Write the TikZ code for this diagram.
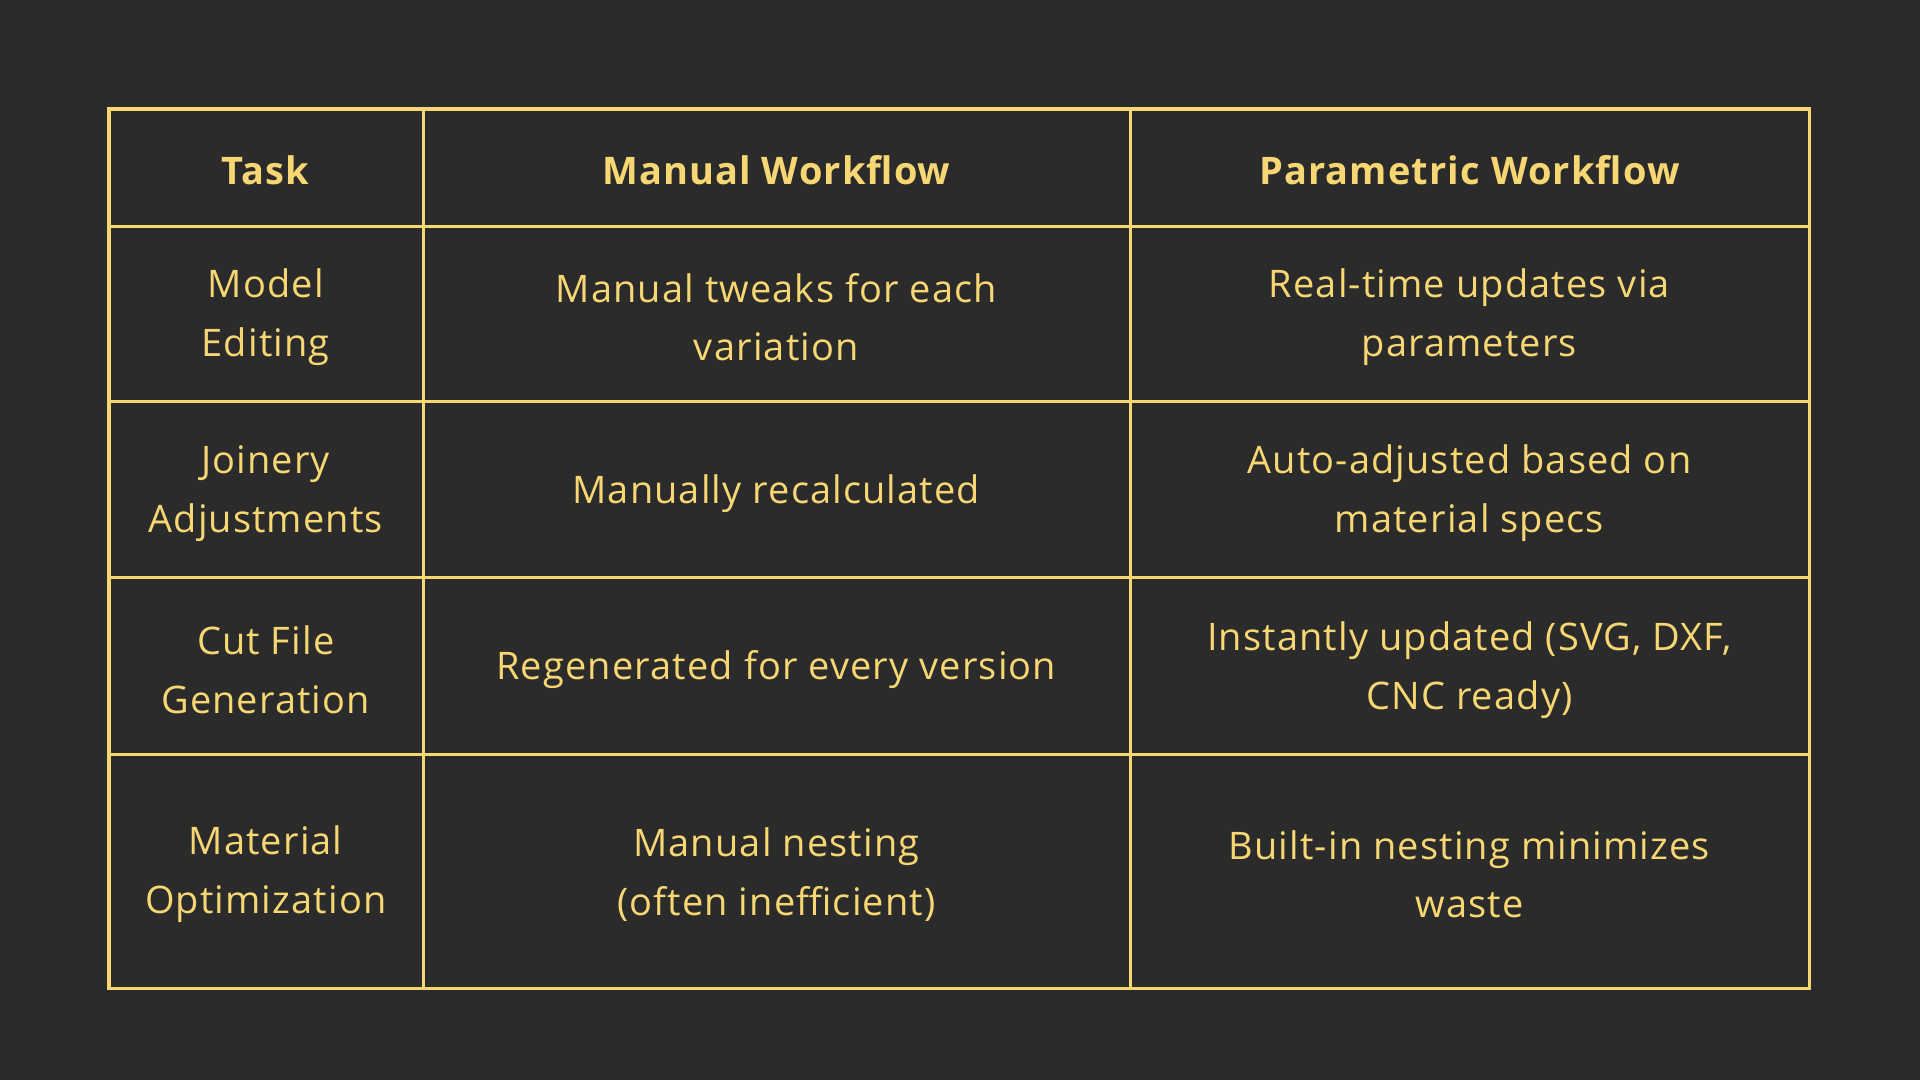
\documentclass[tikz,border=0pt]{standalone}
\usepackage{fontspec}
\setmainfont{Open Sans}[LetterSpace=3]
\definecolor{bg}{HTML}{2B2B2B}
\definecolor{yl}{HTML}{F7D774}
\begin{document}
\begin{tikzpicture}[x=1pt,y=-1pt,
  cell/.style={text=yl,align=center,font=\fontsize{31}{48}\selectfont},
  head/.style={cell,font=\fontsize{31}{48}\selectfont\bfseries},
  grid/.style={draw=yl,line width=2.5pt}]
\fill[bg] (0,0) rectangle (1568,882);
\useasboundingbox (0,0) rectangle (1568,882);
\draw[grid] (89,89) rectangle (1478,807);
\foreach \yy in {185,328,472,616} \draw[grid] (89,\yy) -- (1478,\yy);
\foreach \xx in {346,923} \draw[grid] (\xx,89) -- (\xx,807);
\node[head] (h1) at (217,139) {Task};
\node[head] (h2) at (634,139) {Manual Workflow};
\node[head] (h3) at (1200,139) {Parametric Workflow};
\node[cell] (a1) at (217,259) {Model\\Editing};
\node[cell] (a2) at (634,259) {Manual tweaks for each\\variation};
\node[cell] (a3) at (1200,259) {Real-time updates via\\parameters};
\node[cell] (b1) at (217,403) {Joinery\\Adjustments};
\node[cell] (b2) at (634,403) {Manually recalculated};
\node[cell] (b3) at (1200,403) {Auto-adjusted based on\\material specs};
\node[cell] (c1) at (217,547) {Cut File\\Generation};
\node[cell] (c2) at (634,547) {Regenerated for every version};
\node[cell] (c3) at (1200,547) {Instantly updated (SVG, DXF,\\CNC ready)};
\node[cell] (d1) at (217,714) {Material\\Optimization};
\node[cell] (d2) at (634,714) {Manual nesting\\(often inefficient)};
\node[cell] (d3) at (1200,714) {Built-in nesting minimizes\\waste};
\end{tikzpicture}
\end{document}
